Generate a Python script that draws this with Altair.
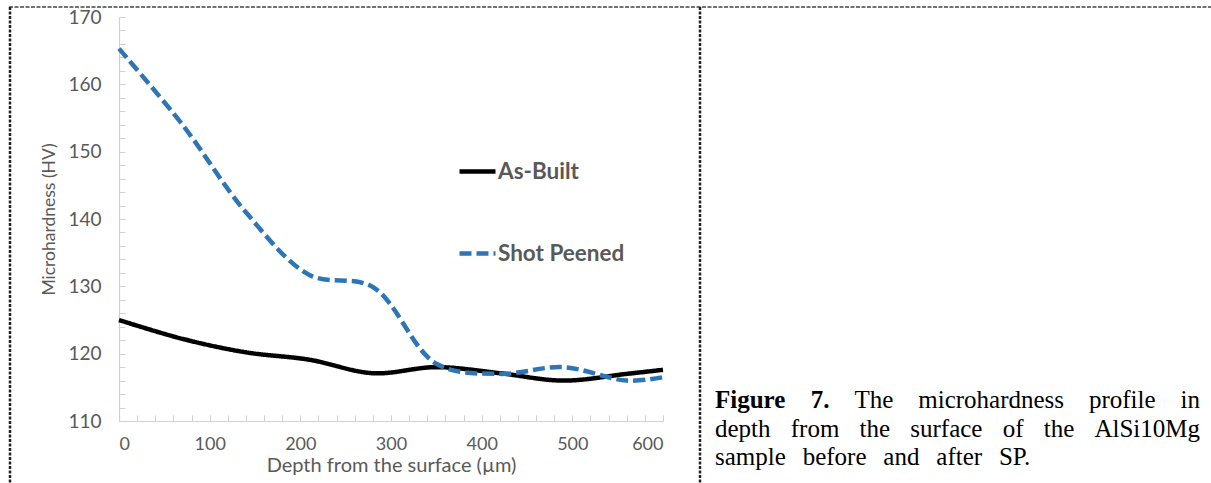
import altair as alt
import pandas as pd

# ---------------- data ----------------
depth = [0, 70, 140, 210, 280, 350, 420, 490, 560, 600]
as_built = [125.0, 122.2, 120.2, 119.1, 117.1, 118.0, 117.1, 116.0, 117.0, 117.6]
shot_peened = [165.3, 154.0, 141.0, 131.7, 129.9, 118.5, 117.0, 118.0, 116.0, 116.5]
series_names = ["As-Built", "Shot Peened"]
series_colors = ["#000000", "#2E75B6"]
x_tick_labels = [0, 100, 200, 300, 400, 500, 600]
y_tick_labels = [110, 120, 130, 140, 150, 160, 170]
x_minor_ticks = list(range(0, 601, 20))
y_minor_ticks = list(range(110, 171, 2))
x_title = "Depth from the surface (µm)"
y_title = "Microhardness (HV)"
caption_lines = [
    [("Figure", True), ("7.", True), ("The", False), ("microhardness", False), ("profile", False), ("in", False)],
    [("depth", False), ("from", False), ("the", False), ("surface", False), ("of", False), ("the", False), ("AlSi10Mg", False)],
    [("sample", False), ("before", False), ("and", False), ("after", False), ("SP.", False)],
]

# ---------------- layout ----------------
PLOT_W, PLOT_H = 544, 404
PAD_L, PAD_T = 119, 17
TOTAL_W, TOTAL_H = 1211, 483
GRAY = "#595959"
AXIS_GRAY = "#d0d0d0"
FONT = "Lato"

rows = []
for d, a, s in zip(depth, as_built, shot_peened):
    rows.append({"depth": d, "hv": a, "series": series_names[0]})
    rows.append({"depth": d, "hv": s, "series": series_names[1]})
df = pd.DataFrame(rows)

xscale = alt.Scale(domain=[0, 600], nice=False, zero=False)
yscale = alt.Scale(domain=[110, 170], nice=False, zero=False)

legend = alt.Legend(
    title=None, orient="none", legendX=338, legendY=134, direction="vertical",
    symbolType="stroke", symbolSize=1296, symbolStrokeWidth=4.5,
    labelFont=FONT, labelFontWeight="bold", labelFontSize=22.5, labelColor=GRAY,
    rowPadding=50, labelOffset=0, padding=0,
)

lines = alt.Chart(df).mark_line(strokeWidth=4.5, interpolate="catmull-rom").encode(
    x=alt.X("depth:Q", scale=xscale, axis=alt.Axis(
        values=x_tick_labels, ticks=False, tickSize=0, grid=False,
        domainColor=AXIS_GRAY, domainWidth=1.2,
        labelFont=FONT, labelFontSize=18, labelColor=GRAY, labelPadding=14,
        title=x_title, titleFont=FONT, titleFontSize=20, titleFontWeight="normal",
        titleColor=GRAY, titlePadding=2)),
    y=alt.Y("hv:Q", scale=yscale, axis=alt.Axis(
        values=y_tick_labels, ticks=False, tickSize=0, grid=False,
        domainColor=AXIS_GRAY, domainWidth=1.2,
        labelFont=FONT, labelFontSize=19, labelColor=GRAY, labelPadding=18,
        title=y_title, titleFont=FONT, titleFontSize=17.5, titleFontWeight="normal",
        titleColor=GRAY, titlePadding=9)),
    color=alt.Color("series:N", scale=alt.Scale(domain=series_names, range=series_colors), legend=legend),
    strokeDash=alt.StrokeDash("series:N", scale=alt.Scale(domain=series_names, range=[[1, 0], [12, 5]]), legend=legend),
    detail="series:N",
)

# inside tick marks (Excel style), via axes on the opposite side pulled onto the plot edges
ticks = alt.Chart(df).mark_point(opacity=0).encode(
    x=alt.X("depth:Q", scale=xscale, axis=alt.Axis(
        orient="top", offset=-PLOT_H, values=x_minor_ticks, labels=False, domain=False,
        ticks=True, tickSize=6, tickColor=AXIS_GRAY, tickWidth=1, grid=False, title=None)),
    y=alt.Y("hv:Q", scale=yscale, axis=alt.Axis(
        orient="right", offset=-PLOT_W, values=y_minor_ticks, labels=False, domain=False,
        ticks=True, tickSize=6, tickColor=AXIS_GRAY, tickWidth=1, grid=False, title=None)),
)

# ---------------- caption (justified words, Times metrics) ----------------
TIMES_REG = {"T": 611, "h": 500, "e": 444, "m": 778, "i": 278, "c": 444, "r": 333, "o": 500,
             "a": 444, "d": 500, "n": 500, "s": 389, "p": 500, "f": 333, "l": 278, "t": 278,
             "u": 500, "A": 722, "S": 556, "1": 500, "0": 500, "M": 889, "g": 500, "b": 500,
             "P": 556, "y": 500, ".": 250}
TIMES_BOLD = {"F": 611, "i": 278, "g": 500, "u": 556, "r": 444, "e": 444, "7": 500, ".": 250}
CAP_SIZE = 25


def word_width(w, bold):
    table = TIMES_BOLD if bold else TIMES_REG
    return sum(table.get(ch, 500) for ch in w) / 1000 * CAP_SIZE


cap_x0 = 715 - PAD_L
line_targets = [485, 485, 318]
line_baselines = [408 - PAD_T, 437 - PAD_T, 465 - PAD_T]
cap_rows = []
for words, target, base in zip(caption_lines, line_targets, line_baselines):
    widths = [word_width(w, b) for w, b in words]
    gap = (target - sum(widths)) / (len(words) - 1)
    pos = cap_x0
    for (w, b), wd in zip(words, widths):
        cap_rows.append({"word": w, "px": pos, "py": base, "bold": b})
        pos += wd + gap
cap_df = pd.DataFrame(cap_rows)

cap_reg = alt.Chart(cap_df[~cap_df["bold"]]).mark_text(
    font="Liberation Serif", fontSize=CAP_SIZE, align="left", baseline="alphabetic", color="#000000"
).encode(x=alt.X("px:Q", scale=None), y=alt.Y("py:Q", scale=None), text="word:N")
cap_bold = alt.Chart(cap_df[cap_df["bold"]]).mark_text(
    font="Liberation Serif", fontSize=CAP_SIZE, fontWeight="bold", align="left",
    baseline="alphabetic", color="#000000"
).encode(x=alt.X("px:Q", scale=None), y=alt.Y("py:Q", scale=None), text="word:N")

# ---------------- dotted table borders ----------------
one = pd.DataFrame({"k": [0]})
top_border = alt.Chart(one).mark_rule(color="#444444", strokeWidth=1.3, strokeDash=[4, 1.5]).encode(
    x=alt.value(9 - PAD_L), x2=alt.value(TOTAL_W - PAD_L), y=alt.value(7 - PAD_T))
left_border = alt.Chart(one).mark_rule(color="#222222", strokeWidth=2.5, strokeDash=[3, 1.5]).encode(
    x=alt.value(10 - PAD_L), y=alt.value(7 - PAD_T), y2=alt.value(TOTAL_H - PAD_T))
mid_border = alt.Chart(one).mark_rule(color="#222222", strokeWidth=2.5, strokeDash=[3, 1.5]).encode(
    x=alt.value(700 - PAD_L), y=alt.value(7 - PAD_T), y2=alt.value(TOTAL_H - PAD_T))

chart = alt.layer(
    ticks, lines, cap_reg, cap_bold, top_border, left_border, mid_border
).resolve_axis(
    x="independent", y="independent"
).properties(
    width=PLOT_W, height=PLOT_H,
    autosize=alt.AutoSizeParams(type="none"),
    padding={"left": PAD_L, "top": PAD_T, "right": TOTAL_W - PAD_L - PLOT_W, "bottom": TOTAL_H - PAD_T - PLOT_H},
    background="white",
).configure_view(stroke=None)

chart.save("out.html", embed_options={"renderer": "svg", "actions": False})
